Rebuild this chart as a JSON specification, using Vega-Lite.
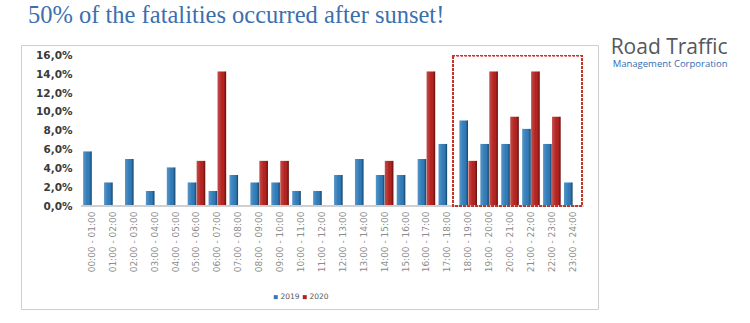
{
  "$schema": "https://vega.github.io/schema/vega-lite/v6.json",
  "width": 577,
  "height": 264,
  "autosize": "none",
  "padding": {"left": 21, "top": 45, "right": 152, "bottom": 14},
  "background": "#ffffff",
  "title": {
    "text": "50% of the fatalities occurred after sunset!",
    "anchor": "start",
    "frame": "group",
    "dx": 7,
    "offset": -16,
    "baseline": "bottom",
    "font": "Liberation Serif",
    "fontSize": 24.5,
    "fontWeight": "normal",
    "color": "#3b6fae"
  },
  "config": {
    "view": {"fill": "#ffffff", "stroke": "#cfcfcf", "strokeWidth": 1}
  },
  "data": {
    "values": [
      {"hour": "00:00 - 01:00", "year": "2019", "pct": 5.8},
      {"hour": "01:00 - 02:00", "year": "2019", "pct": 2.5},
      {"hour": "02:00 - 03:00", "year": "2019", "pct": 5.0},
      {"hour": "03:00 - 04:00", "year": "2019", "pct": 1.6},
      {"hour": "04:00 - 05:00", "year": "2019", "pct": 4.1},
      {"hour": "05:00 - 06:00", "year": "2019", "pct": 2.5},
      {"hour": "06:00 - 07:00", "year": "2019", "pct": 1.6},
      {"hour": "07:00 - 08:00", "year": "2019", "pct": 3.3},
      {"hour": "08:00 - 09:00", "year": "2019", "pct": 2.5},
      {"hour": "09:00 - 10:00", "year": "2019", "pct": 2.5},
      {"hour": "10:00 - 11:00", "year": "2019", "pct": 1.6},
      {"hour": "11:00 - 12:00", "year": "2019", "pct": 1.6},
      {"hour": "12:00 - 13:00", "year": "2019", "pct": 3.3},
      {"hour": "13:00 - 14:00", "year": "2019", "pct": 5.0},
      {"hour": "14:00 - 15:00", "year": "2019", "pct": 3.3},
      {"hour": "15:00 - 16:00", "year": "2019", "pct": 3.3},
      {"hour": "16:00 - 17:00", "year": "2019", "pct": 5.0},
      {"hour": "17:00 - 18:00", "year": "2019", "pct": 6.6},
      {"hour": "18:00 - 19:00", "year": "2019", "pct": 9.1},
      {"hour": "19:00 - 20:00", "year": "2019", "pct": 6.6},
      {"hour": "20:00 - 21:00", "year": "2019", "pct": 6.6},
      {"hour": "21:00 - 22:00", "year": "2019", "pct": 8.2},
      {"hour": "22:00 - 23:00", "year": "2019", "pct": 6.6},
      {"hour": "23:00 - 24:00", "year": "2019", "pct": 2.5},
      {"hour": "05:00 - 06:00", "year": "2020", "pct": 4.8},
      {"hour": "06:00 - 07:00", "year": "2020", "pct": 14.3},
      {"hour": "08:00 - 09:00", "year": "2020", "pct": 4.8},
      {"hour": "09:00 - 10:00", "year": "2020", "pct": 4.8},
      {"hour": "14:00 - 15:00", "year": "2020", "pct": 4.8},
      {"hour": "16:00 - 17:00", "year": "2020", "pct": 14.3},
      {"hour": "18:00 - 19:00", "year": "2020", "pct": 4.8},
      {"hour": "19:00 - 20:00", "year": "2020", "pct": 14.3},
      {"hour": "20:00 - 21:00", "year": "2020", "pct": 9.5},
      {"hour": "21:00 - 22:00", "year": "2020", "pct": 14.3},
      {"hour": "22:00 - 23:00", "year": "2020", "pct": 9.5}
    ]
  },
  "encoding": {
    "x": {
      "field": "hour",
      "type": "nominal",
      "sort": "ascending",
      "scale": {"range": [60.5, 562.2], "paddingInner": 0, "paddingOuter": 0},
      "axis": {
        "orient": "bottom",
        "offset": -103,
        "labelAngle": -90,
        "labelFont": "DejaVu Sans",
        "labelFontSize": 9,
        "labelColor": "#8c8c8c",
        "labelPadding": 5,
        "ticks": false,
        "domain": false,
        "title": "Management Corporation",
        "titleFont": "Open Sans",
        "titleFontSize": 9.5,
        "titleFontWeight": "normal",
        "titleColor": "#2f6db5",
        "titleAngle": 0,
        "titleAlign": "right",
        "titleBaseline": "alphabetic",
        "titleX": 706,
        "titleY": -140,
        "titleLimit": 400
      }
    },
    "y": {
      "type": "quantitative",
      "scale": {"domain": [-10.95, 17.12], "nice": false, "zero": false},
      "axis": {
        "orient": "left",
        "offset": -53,
        "values": [0, 2, 4, 6, 8, 10, 12, 14, 16],
        "labelExpr": "replace(format(datum.value, '.1f'), '.', ',') + '%'",
        "labelFont": "DejaVu Sans",
        "labelFontSize": 10.5,
        "labelFontWeight": "bold",
        "labelColor": "#3a3a3a",
        "labelPadding": 2,
        "grid": false,
        "ticks": false,
        "domain": false,
        "title": "Road Traffic",
        "titleFont": "Open Sans",
        "titleFontSize": 21,
        "titleFontWeight": "normal",
        "titleColor": "#54585c",
        "titleAngle": 0,
        "titleAlign": "right",
        "titleBaseline": "alphabetic",
        "titleX": 653,
        "titleY": 8,
        "titleLimit": 400
      }
    }
  },
  "layer": [
    {
      "mark": {"type": "bar"},
      "encoding": {
        "y": {"field": "pct", "stack": null},
        "y2": {"datum": 0},
        "xOffset": {
          "field": "year",
          "type": "nominal",
          "scale": {"paddingInner": 0.05, "paddingOuter": 0.19}
        },
        "color": {
          "field": "year",
          "type": "nominal",
          "scale": {"domain": ["2019", "2020"], "range": ["#2e7ab8", "#b3201d"]},
          "legend": {
            "orient": "none",
            "legendX": 251,
            "legendY": 248,
            "direction": "horizontal",
            "title": null,
            "symbolType": "square",
            "symbolSize": 16,
            "symbolStrokeWidth": 0,
            "labelFont": "DejaVu Sans",
            "labelFontSize": 7.5,
            "labelColor": "#555555",
            "labelOffset": 1,
            "columnPadding": 1
          }
        }
      }
    },
    {
      "mark": {
        "type": "bar",
        "color": {
          "gradient": "linear",
          "x1": 0, "x2": 1, "y1": 0, "y2": 0,
          "stops": [
            {"offset": 0, "color": "rgba(255,255,255,0.2)"},
            {"offset": 0.55, "color": "rgba(255,255,255,0)"},
            {"offset": 0.8, "color": "rgba(0,0,0,0.12)"},
            {"offset": 1, "color": "rgba(0,0,0,0.45)"}
          ]
        }
      },
      "encoding": {
        "y": {"field": "pct", "stack": null},
        "y2": {"datum": 0},
        "xOffset": {"field": "year", "type": "nominal"}
      }
    },
    {
      "mark": {"type": "rule", "color": "#cfcfcf", "strokeWidth": 1},
      "encoding": {
        "x": {"datum": "00:00 - 01:00", "bandPosition": 0},
        "x2": {"datum": "23:00 - 24:00", "bandPosition": 1},
        "y": {"datum": 0}
      }
    },
    {
      "mark": {
        "type": "rect",
        "fill": null,
        "fillOpacity": 0,
        "stroke": "#c0392b",
        "strokeWidth": 1,
        "strokeDash": [2, 2]
      },
      "encoding": {
        "x": {"datum": "17:00 - 18:00", "bandPosition": 0.76},
        "x2": {"datum": "23:00 - 24:00", "bandPosition": 0.93},
        "y": {"datum": 16},
        "y2": {"datum": 0}
      }
    }
  ]
}
